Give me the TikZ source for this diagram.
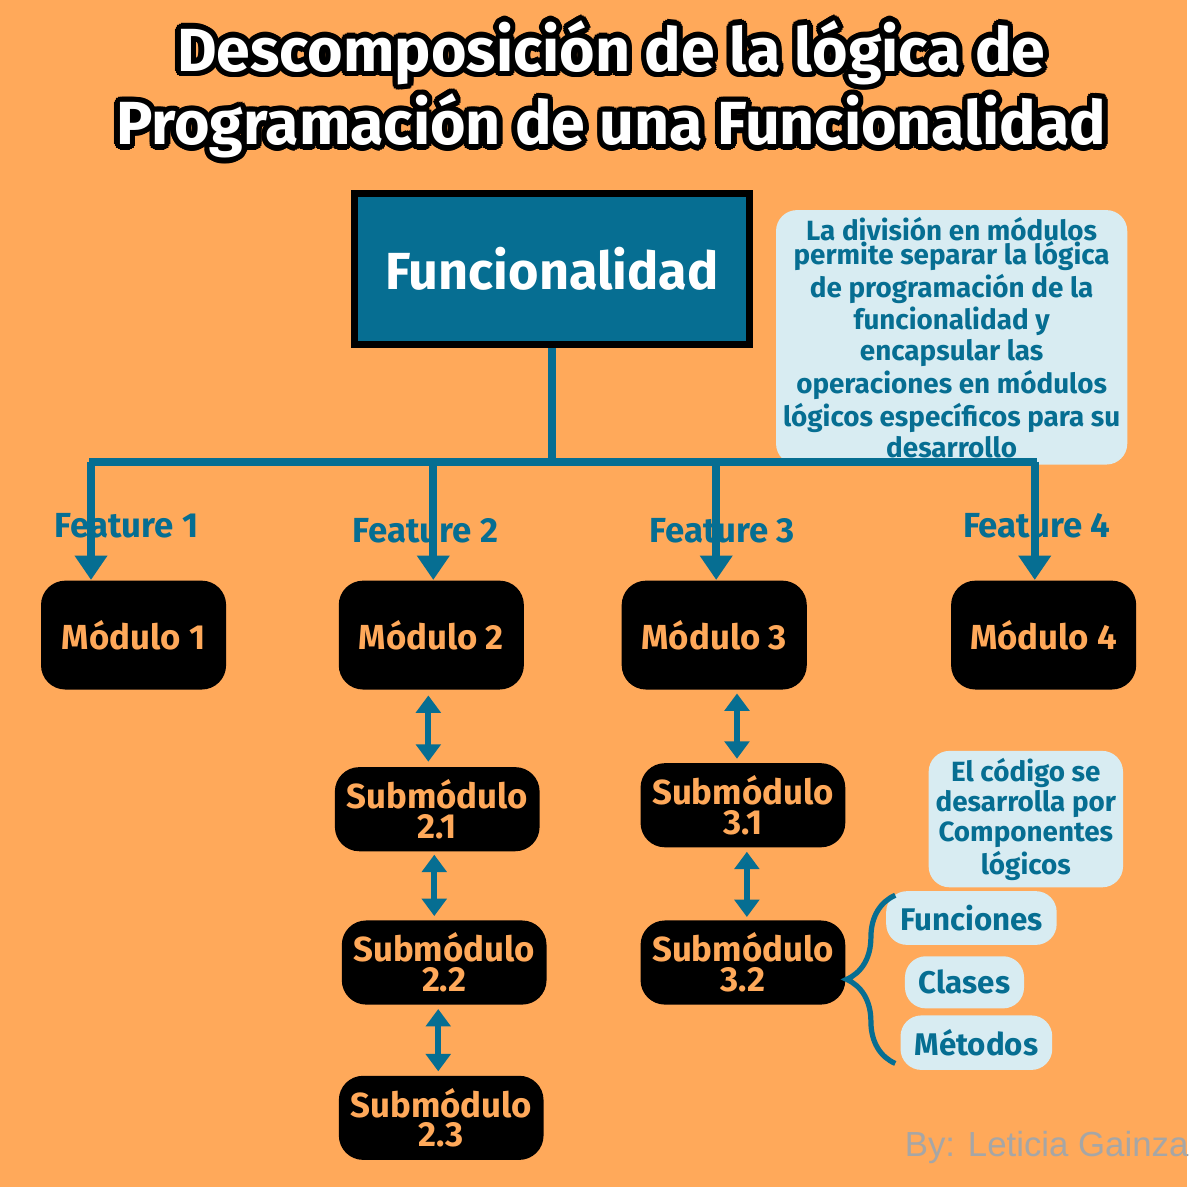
\documentclass[tikz,border=0pt]{standalone}
\usepackage{fontspec}
\setmainfont{Fira Sans}
\usepackage{contour}
\usetikzlibrary{arrows.meta,decorations.pathreplacing}
\definecolor{fondo}{HTML}{FFA95A}
\definecolor{azul}{HTML}{066E92}
\definecolor{celeste}{HTML}{D8ECF2}
\contourlength{1.6pt}
\begin{document}
\begin{tikzpicture}[x=0.01cm,y=-0.01cm]
 \tikzstyle{modulo}=[rectangle, rounded corners=7pt, fill=black, text=fondo, font=\bfseries\fontsize{10}{10}\selectfont, minimum width=1.87cm, minimum height=1.1cm, align=center]
 \tikzstyle{submod}=[rectangle, rounded corners=7pt, fill=black, text=fondo, font=\bfseries\fontsize{10}{8.5}\selectfont, minimum width=1.98cm, minimum height=0.85cm, align=center]
 \tikzstyle{nota}=[rectangle, rounded corners=6pt, fill=celeste, text=azul, font=\bfseries\fontsize{8}{7}\selectfont, align=center, inner sep=2pt]
 \tikzstyle{comp}=[nota, font=\bfseries\fontsize{9}{9}\selectfont, inner sep=4pt]
 \tikzstyle{feat}=[text=azul, font=\bfseries\fontsize{10}{10}\selectfont]
 \tikzstyle{flecha}=[-{Triangle[width=9pt,length=7pt]}, azul, line width=2.2pt]
 \tikzstyle{doble}=[{Triangle[width=7pt,length=5pt]}-{Triangle[width=7pt,length=5pt]}, azul, line width=1.8pt]
 \fill[fondo] (0,0) rectangle (1200,1200);
 %
 \node[text=white, font=\bfseries\fontsize{17.5}{15}\selectfont, align=center] (titulo) at (618,93) {\contour{black}{Descomposición de la lógica de}\\\contour{black}{Programación de una Funcionalidad}};
 \node[draw=black, line width=2pt, fill=azul, text=white, font=\bfseries\fontsize{15}{15}\selectfont, minimum width=4.0cm, minimum height=1.52cm] (F) at (558,272) {Funcionalidad};
 \node[nota] (N1) at (962,341) {La división en módulos\\permite separar la lógica\\de programación de la\\funcionalidad y\\encapsular las\\operaciones en módulos\\lógicos específicos para su\\desarrollo};
 %
 \node[modulo] (M1) at (135,642) {Módulo 1};
 \node[modulo] (M2) at (436,642) {Módulo 2};
 \node[modulo] (M3) at (722,642) {Módulo 3};
 \node[modulo] (M4) at (1055,642) {Módulo 4};
 \node[feat] (F1) at (128,531) {Feature 1};
 \node[feat] (F2) at (430,537) {Feature 2};
 \node[feat] (F3) at (730,537) {Feature 3};
 \node[feat] (F4) at (1048,531) {Feature 4};
 %
 \node[submod] (S21) at (442,818) {Submódulo\\2.1};
 \node[submod] (S22) at (449,973) {Submódulo\\2.2};
 \node[submod] (S23) at (446,1130) {Submódulo\\2.3};
 \node[submod] (S31) at (751,814) {Submódulo\\3.1};
 \node[submod] (S32) at (751,973) {Submódulo\\3.2};
 %
 \node[nota] (N2) at (1037,828) {El código se\\desarrolla por\\Componentes\\lógicos};
 \node[comp] (C1) at (982,928) {Funciones};
 \node[comp] (C2) at (975,993) {Clases};
 \node[comp] (C3) at (987,1054) {Métodos};
 \node[text=black!35, font=\fontsize{10}{10}\selectfont\fontspec{Liberation Sans}] (firma) at (1058,1160) {By: Leticia Gainza};
 %%
 \coordinate (T) at (558,467);
 \draw[azul, line width=2.2pt] (F.south) -- (T);
 \draw[azul, line width=2.2pt] (90,467) -- (1048,467);
 \draw[flecha] (92,467) -- (M1.north -| 92,0);
 \draw[flecha] (438,467) -- (M2.north -| 438,0);
 \draw[flecha] (724,467) -- (M3.north -| 724,0);
 \draw[flecha] (1046,467) -- (M4.north -| 1046,0);
 \draw[doble] (433,703) -- (433,770);
 \draw[doble] (439,864) -- (439,926);
 \draw[doble] (443,1020) -- (443,1083);
 \draw[doble] (745,701) -- (745,767);
 \draw[doble] (755,861) -- (755,927);
 \draw[azul, line width=1.5pt, decorate, decoration={brace, amplitude=14pt}] (905,1075) -- (905,905);
\end{tikzpicture}
\end{document}
